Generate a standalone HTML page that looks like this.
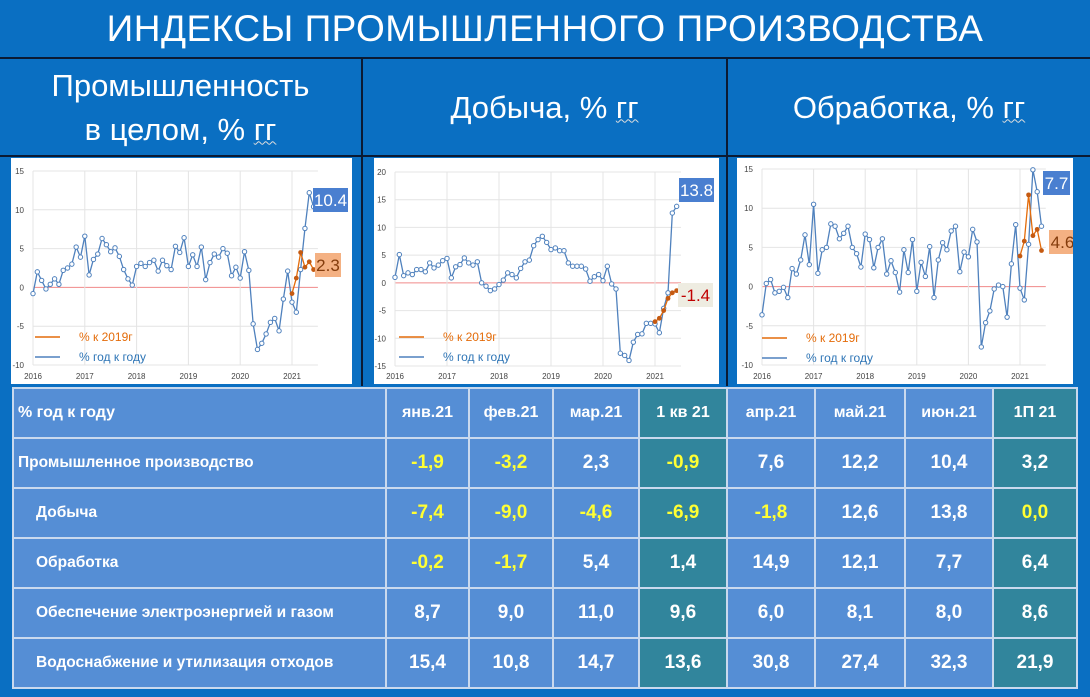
<!DOCTYPE html>
<html><head><meta charset="utf-8">
<style>
*{margin:0;padding:0;box-sizing:border-box}
body{width:1090px;height:697px;background:#0a6fc2;font-family:"Liberation Sans","DejaVu Sans",sans-serif;position:relative;overflow:hidden;color:#fff}
.abs{position:absolute}
#title{left:0;top:0;width:1090px;height:58px;text-align:center;font-size:37px;line-height:58px;letter-spacing:0.5px}
.hline{height:2px;background:#0b1a33}
.vline{width:2px;background:#0b1a33}
.sub{font-size:31px;text-align:center;display:flex;align-items:center;justify-content:center;line-height:44px}
.ul{text-decoration:underline wavy #ddd;text-decoration-thickness:1px}
svg text{font-family:"Liberation Sans",sans-serif}
table{position:absolute;left:12px;top:387px;width:1066px;border-collapse:collapse;font-weight:bold;font-size:16px}
td{border:2px solid #c9d9ee;background:#558ed5;height:50px;text-align:center;font-size:19px}
td.l{text-align:left;padding-left:4px;font-size:15.5px}
td.in{padding-left:22px}
td.t{background:#31859c}
.y{color:#ffff33}
tr:first-child td{font-size:16px}
</style></head><body>
<div id="title" class="abs">ИНДЕКСЫ ПРОМЫШЛЕННОГО ПРОИЗВОДСТВА</div>
<div class="abs hline" style="left:0;top:57px;width:1090px"></div>
<div class="abs vline" style="left:361px;top:58px;height:328px"></div>
<div class="abs vline" style="left:726px;top:58px;height:328px"></div>
<div class="abs hline" style="left:0;top:155px;width:1090px"></div>
<div class="abs sub" style="left:0;top:60px;width:361px;height:95px"><div>Промышленность<br>в целом, % <span class="ul">гг</span></div></div>
<div class="abs sub" style="left:363px;top:60px;width:363px;height:95px"><div>Добыча, % <span class="ul">гг</span></div></div>
<div class="abs sub" style="left:728px;top:60px;width:362px;height:95px"><div>Обработка, % <span class="ul">гг</span></div></div>

<svg id="c1" class="abs" style="left:11px;top:158px" width="341" height="226"></svg>
<svg id="c2" class="abs" style="left:374px;top:158px" width="345" height="226"></svg>
<svg id="c3" class="abs" style="left:737px;top:158px" width="336" height="226"></svg>

<table>
<tr><td class="l" style="width:373px">% год к году</td><td style="width:83px">янв.21</td><td style="width:84px">фев.21</td><td style="width:86px">мар.21</td><td class="t" style="width:88px">1 кв 21</td><td style="width:88px">апр.21</td><td style="width:90px">май.21</td><td style="width:88px">июн.21</td><td class="t">1П 21</td></tr>
<tr><td class="l">Промышленное производство</td><td class="y">-1,9</td><td class="y">-3,2</td><td>2,3</td><td class="t y">-0,9</td><td>7,6</td><td>12,2</td><td>10,4</td><td class="t">3,2</td></tr>
<tr><td class="l in">Добыча</td><td class="y">-7,4</td><td class="y">-9,0</td><td class="y">-4,6</td><td class="t y">-6,9</td><td class="y">-1,8</td><td>12,6</td><td>13,8</td><td class="t y">0,0</td></tr>
<tr><td class="l in">Обработка</td><td class="y">-0,2</td><td class="y">-1,7</td><td>5,4</td><td class="t">1,4</td><td>14,9</td><td>12,1</td><td>7,7</td><td class="t">6,4</td></tr>
<tr><td class="l in">Обеспечение электроэнергией и газом</td><td>8,7</td><td>9,0</td><td>11,0</td><td class="t">9,6</td><td>6,0</td><td>8,1</td><td>8,0</td><td class="t">8,6</td></tr>
<tr><td class="l in">Водоснабжение и утилизация отходов</td><td>15,4</td><td>10,8</td><td>14,7</td><td class="t">13,6</td><td>30,8</td><td>27,4</td><td>32,3</td><td class="t">21,9</td></tr>
</table>

<script>
const years = ["2016","2017","2018","2019","2020","2021"];
const industryYoY = [-0.8,2.0,0.9,-0.2,0.4,1.1,0.4,2.2,2.5,3.0,5.2,3.9, 6.6,1.6,3.6,4.3,6.3,5.5,4.6,5.1,4.0,2.3,1.1,0.3, 2.7,3.1,2.7,3.2,3.5,2.1,3.5,2.8,2.3,5.3,4.5,6.4, 2.7,4.2,2.7,5.2,1.0,3.2,4.3,3.9,5.0,4.4,1.5,2.6, 1.2,4.6,2.2,-4.7,-8.0,-7.2,-6.0,-4.5,-4.0,-5.6,-1.5,2.1, -1.9,-3.2,2.3,7.6,12.2,10.4];
const industryVs2019 = [-0.8,1.2,4.5,2.6,3.3,2.3];
const miningYoY = [1.0,5.1,1.3,1.8,1.5,2.4,2.4,2.0,3.6,2.7,3.2,4.0, 4.4,0.9,2.9,3.3,4.5,3.6,3.2,3.8,0.0,-0.6,-1.4,-1.1, -0.3,0.5,1.8,1.5,0.9,2.6,3.8,4.1,6.7,7.8,8.4,7.3, 6.0,6.3,5.8,5.8,3.6,3.0,3.0,3.0,2.5,0.3,1.1,1.5, 0.4,3.0,-0.2,-1.1,-12.7,-13.1,-14.0,-10.7,-9.3,-9.2,-7.3,-7.3, -7.4,-9.0,-4.6,-1.8,12.6,13.8];
const miningVs2019 = [-7.0,-6.4,-5.0,-2.8,-1.8,-1.4];
const manufYoY = [-3.6,0.4,0.9,-0.8,-0.6,-0.1,-1.4,2.3,1.6,3.4,6.6,2.8, 10.5,1.7,4.7,5.0,8.0,7.7,6.1,6.8,7.7,5.0,4.2,2.5, 6.7,6.0,2.4,5.0,6.1,1.6,3.3,1.8,-0.7,4.7,1.8,6.0, -0.6,3.1,1.3,5.1,-1.4,3.4,5.6,4.7,7.1,7.7,1.9,4.4, 3.8,7.3,5.7,-7.7,-4.6,-3.1,-0.3,0.2,0.0,-3.9,2.9,7.9, -0.2,-1.7,5.4,14.9,12.1,7.7];
const manufVs2019 = [3.9,5.8,11.7,6.5,7.3,4.6];
const industryTicks = [-10,-5,0,5,10,15];
const miningTicks = [-15,-10,-5,0,5,10,15,20];
const manufTicks = [-10,-5,0,5,10,15];
const labelsYoY = ["10.4","13.8","7.7"];
const labelsVs = ["2.3","-1.4","4.6"];

const NS="http://www.w3.org/2000/svg";
function mk(svg,tag,attrs){const e=document.createElementNS(NS,tag);for(const k in attrs)e.setAttribute(k,attrs[k]);svg.appendChild(e);return e;}

function draw(id,yoy,vs,ticks,cfg){
  const svg=document.getElementById(id);
  mk(svg,'rect',{x:0,y:0,width:svg.getAttribute('width'),height:226,fill:'#fff'});
  const ymin=ticks[0],ymax=ticks[ticks.length-1];
  const X=m=>cfg.x0+m*cfg.yw/12;
  const Y=v=>cfg.yTop+(ymax-v)/(ymax-ymin)*(cfg.yBot-cfg.yTop);
  const xEnd=X(yoy.length);
  ticks.forEach(t=>{
    const g=mk(svg,'line',{x1:cfg.x0,x2:xEnd,y1:Y(t),y2:Y(t),stroke:t===0?'#f08a8a':'#e4e4e4','stroke-width':1});
    
    const tx=mk(svg,'text',{x:cfg.x0-9,y:Y(t)+3,'font-size':8,fill:'#444','text-anchor':'end'});tx.textContent=t;
    
  });
  years.forEach((yr,i)=>{
    mk(svg,'line',{x1:X(i*12),x2:X(i*12),y1:Y(ymax),y2:Y(ymin),stroke:'#e4e4e4'});
    const tx=mk(svg,'text',{x:X(i*12),y:221,'font-size':8,fill:'#444','text-anchor':'middle'});tx.textContent=yr;
    
  });
  // legend
  mk(svg,'line',{x1:cfg.lx,x2:cfg.lx+25,y1:cfg.ly,y2:cfg.ly,stroke:'#e46c0a','stroke-width':1.5});
  let t=mk(svg,'text',{x:cfg.lx+44,y:cfg.ly+4,'font-size':12,fill:'#e46c0a'});t.textContent='% к 2019г';
  
  mk(svg,'line',{x1:cfg.lx,x2:cfg.lx+25,y1:cfg.ly+20,y2:cfg.ly+20,stroke:'#4f81bd','stroke-width':1.5});
  t=mk(svg,'text',{x:cfg.lx+44,y:cfg.ly+24,'font-size':12,fill:'#2e75b6'});t.textContent='% год к году';
  
  // yoy line
  const p=mk(svg,'polyline',{points:yoy.map((v,i)=>X(i)+','+Y(v)).join(' '),fill:'none',stroke:'#4f81bd','stroke-width':1.3});
  
  yoy.forEach((v,i)=>{const c=mk(svg,'circle',{cx:X(i),cy:Y(v),r:2.2,fill:'#fff',stroke:'#4f81bd','stroke-width':1});
    });
  const off=yoy.length-vs.length;
  const q=mk(svg,'polyline',{points:vs.map((v,i)=>X(off+i)+','+Y(v)).join(' '),fill:'none',stroke:'#e46c0a','stroke-width':1.3});
  
  vs.forEach((v,i)=>{const c=mk(svg,'circle',{cx:X(off+i),cy:Y(v),r:2.4,fill:'#c55a11'});
    });
  // labels
  function box(txt,bx,by,w,fill,col,name){
    const r=mk(svg,'rect',{x:bx,y:by,width:w,height:24,fill:fill});
    
    const tt=mk(svg,'text',{x:bx+w/2,y:by+18,'font-size':17,fill:col,'text-anchor':'middle'});tt.textContent=txt;
    
  }
  box(labelsYoY[cfg.i],cfg.b1[0],cfg.b1[1],cfg.b1[2],'#4a7fd0','#fff','yoy-value-label');
  box(labelsVs[cfg.i],cfg.b2[0],cfg.b2[1],cfg.b2[2],cfg.b2[3],cfg.b2[4],'vs-2019-value-label');
}
draw('c1',industryYoY,industryVs2019,industryTicks,{i:0,x0:22,yw:51.8,yTop:13,yBot:207,lx:24,ly:179,b1:[302,30,35],b2:[304,95,26,'#f4b183','#843c0c']});
draw('c2',miningYoY,miningVs2019,miningTicks,{i:1,x0:21,yw:52,yTop:14,yBot:208,lx:25,ly:179,b1:[305,20,35],b2:[304,125,35,'#eeece1','#c00000']});
draw('c3',manufYoY,manufVs2019,manufTicks,{i:2,x0:25,yw:51.6,yTop:11,yBot:207,lx:25,ly:180,b1:[306,13,27],b2:[312,72,27,'#f4b183','#843c0c']});
</script>
</body></html>
